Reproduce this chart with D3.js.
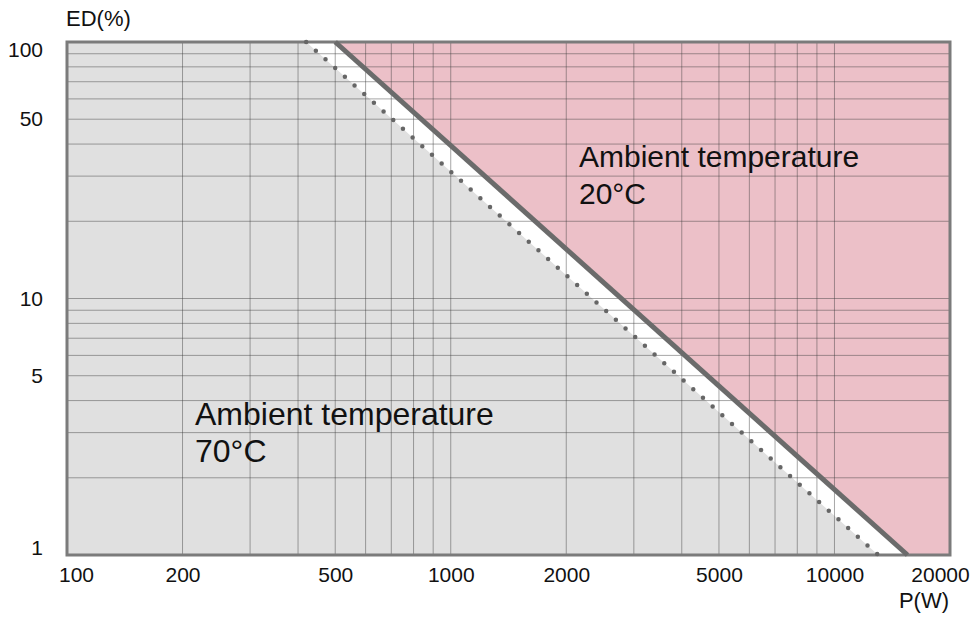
<!DOCTYPE html>
<html>
<head>
<meta charset="utf-8">
<script src="https://cdn.jsdelivr.net/npm/d3@7"></script>
<style>
  body { margin: 0; background: #fff; }
  svg { display: block; }
  text { font-family: "Liberation Sans", Arial, sans-serif; fill: #111; }
</style>
</head>
<body>
<svg id="chart" width="976" height="617"></svg>
<script>
// limit curves, P(W) vs ED(%)
const power20 = [500, 15500];   // ambient 20°C (solid)
const duty20 = [100, 1];
const power70 = [420, 13000];   // ambient 70°C (dotted)
const duty70 = [100, 1];

const xTickValues = [100, 200, 500, 1000, 2000, 5000, 10000, 20000];
const yTickValues = [1, 5, 10, 50, 100];

const svg = d3.select('#chart');

const x = d3.scaleLog().domain([100, 20000]).range([67, 950]);
const y = d3.scaleLog().domain([1, 100]).range([555, 42]);

const [xMin, xMax] = x.domain();
const [yMin, yMax] = y.domain();

const toXY = d3.line().x(d => x(d[0])).y(d => y(d[1]));
const line20 = power20.map((p, i) => [p, duty20[i]]);
const line70 = power70.map((p, i) => [p, duty70[i]]);

// gray zone (left of the 70°C line)
svg.append('path')
  .attr('d', toXY([[xMin, yMax], ...line70, [xMin, yMin]]) + 'Z')
  .attr('fill', '#e0e0e0');

// pink zone (right of the 20°C line)
svg.append('path')
  .attr('d', toXY([...line20, [xMax, yMin], [xMax, yMax]]) + 'Z')
  .attr('fill', '#ecc0c8');

// grid
const grid = svg.append('g')
  .attr('stroke', 'rgba(60,60,60,0.45)')
  .attr('stroke-width', 1);

grid.selectAll('line.vx')
  .data(x.ticks().filter(d => d > xMin && d < xMax))
  .enter().append('line')
  .attr('x1', d => x(d)).attr('x2', d => x(d))
  .attr('y1', y(yMin)).attr('y2', y(yMax));

grid.selectAll('line.hy')
  .data(y.ticks().filter(d => d > yMin && d < yMax))
  .enter().append('line')
  .attr('x1', x(xMin)).attr('x2', x(xMax))
  .attr('y1', d => y(d)).attr('y2', d => y(d));

// frame
svg.append('rect')
  .attr('x', x(xMin)).attr('y', y(yMax))
  .attr('width', x(xMax) - x(xMin))
  .attr('height', y(yMin) - y(yMax))
  .attr('fill', 'none')
  .attr('stroke', '#7b7b7b')
  .attr('stroke-width', 3);

// 70°C limit, dotted
svg.append('path')
  .attr('d', toXY(line70))
  .attr('fill', 'none')
  .attr('stroke', '#666')
  .attr('stroke-width', 4.5)
  .attr('stroke-linecap', 'round')
  .attr('stroke-dasharray', '0 13');

// 20°C limit, solid
svg.append('path')
  .attr('d', toXY(line20))
  .attr('fill', 'none')
  .attr('stroke', '#6b6b6b')
  .attr('stroke-width', 5);

// axes
const xAxis = svg.append('g')
  .attr('transform', `translate(0,${y(yMin)})`)
  .call(d3.axisBottom(x).tickValues(xTickValues).tickSize(0).tickPadding(12).tickFormat(d3.format('d')));
xAxis.select('.domain').remove();
xAxis.selectAll('text')
  .attr('font-size', 21)
  .attr('font-family', '"Liberation Sans", Arial, sans-serif')
  .attr('dx', d => d === xMin ? 9 : d === xMax ? -10 : 0);

const yAxis = svg.append('g')
  .attr('transform', `translate(${x(xMin)},0)`)
  .call(d3.axisLeft(y).tickValues(yTickValues).tickSize(0).tickPadding(24).tickFormat(d3.format('d')));
yAxis.select('.domain').remove();
yAxis.selectAll('text')
  .attr('font-size', 21)
  .attr('font-family', '"Liberation Sans", Arial, sans-serif')
  .attr('transform', d => d === yMax ? 'translate(0,8)' : d === yMin ? 'translate(0,-7)' : null);

svg.append('text')
  .attr('x', 66).attr('y', 26)
  .attr('font-size', 22)
  .text('ED(%)');

svg.append('text')
  .attr('x', 949).attr('y', 608)
  .attr('text-anchor', 'end')
  .attr('font-size', 22)
  .text('P(W)');

// zone labels
const upper = svg.append('text').attr('font-size', 30);
upper.append('tspan').attr('x', 579).attr('y', 167).text('Ambient temperature');
upper.append('tspan').attr('x', 579).attr('y', 204).text('20°C');

const lower = svg.append('text').attr('font-size', 32);
lower.append('tspan').attr('x', 195).attr('y', 425).text('Ambient temperature');
lower.append('tspan').attr('x', 195).attr('y', 462).text('70°C');
</script>
</body>
</html>
